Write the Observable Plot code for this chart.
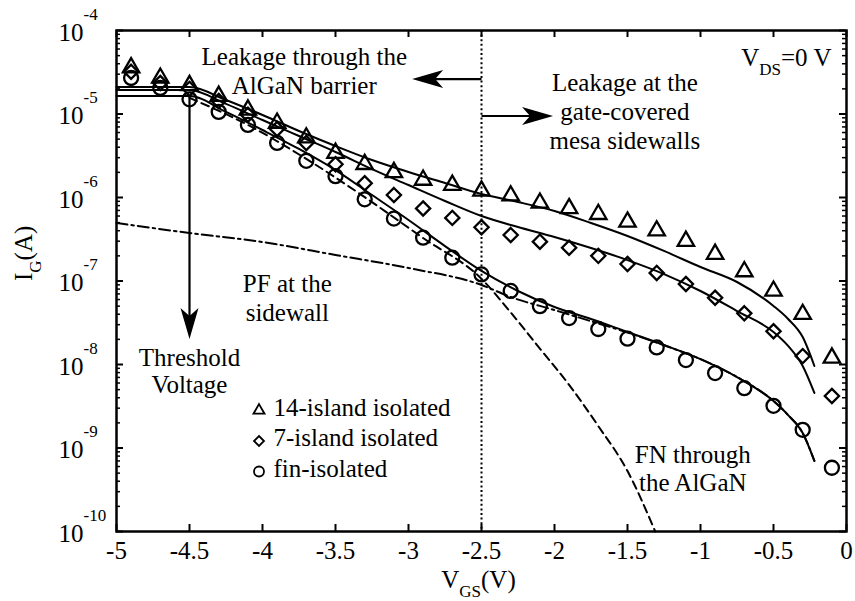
<!DOCTYPE html>
<html>
<head>
<meta charset="utf-8">
<script src="https://cdn.jsdelivr.net/npm/d3@7"></script>
<script src="https://cdn.jsdelivr.net/npm/@observablehq/plot@0.6"></script>
<style>
  html, body { margin: 0; padding: 0; background: #fff; }
  #chart { width: 855px; height: 601px; }
  #chart svg, #chart svg text, #chart svg tspan { font-family: "Liberation Serif", "Times New Roman", serif !important; }
</style>
</head>
<body>
<div id="chart"></div>
<script>
// Gate bias of the measured points (V)
const vgs = [-4.9, -4.7, -4.5, -4.3, -4.1, -3.9, -3.7, -3.5, -3.3, -3.1, -2.9, -2.7, -2.5,
             -2.3, -2.1, -1.9, -1.7, -1.5, -1.3, -1.1, -0.9, -0.7, -0.5, -0.3, -0.1];

// Measured gate leakage current (A)
const ig14 = [3.6e-5, 2.7e-5, 2.2e-5, 1.64e-5, 1.12e-5, 7.8e-6, 5.2e-6, 3.4e-6, 2.5e-6, 2.0e-6,
              1.62e-6, 1.41e-6, 1.2e-6, 1.05e-6, 8.6e-7, 7.4e-7, 6.3e-7, 5.1e-7, 4.0e-7, 3.0e-7,
              2.1e-7, 1.3e-7, 7.6e-8, 4.0e-8, 1.2e-8];
const ig7 = [3.2e-5, 2.35e-5, 2.0e-5, 1.43e-5, 9.8e-6, 6.6e-6, 4.5e-6, 2.5e-6, 1.48e-6, 1.07e-6,
             7.4e-7, 5.7e-7, 4.4e-7, 3.55e-7, 2.96e-7, 2.5e-7, 2.0e-7, 1.6e-7, 1.25e-7, 9.2e-8,
             6.3e-8, 4.1e-8, 2.5e-8, 1.26e-8, 4.2e-9];
const igFin = [2.7e-5, 2.05e-5, 1.5e-5, 1.06e-5, 7.4e-6, 4.5e-6, 2.75e-6, 1.8e-6, 9.5e-7, 5.6e-7,
               3.3e-7, 1.9e-7, 1.2e-7, 7.6e-8, 5.0e-8, 3.6e-8, 2.66e-8, 2.04e-8, 1.6e-8, 1.13e-8,
               7.9e-9, 5.2e-9, 3.2e-9, 1.65e-9, 5.8e-10];

// Model fits (solid lines)
const fit14V = [-5, -4.5, -4.25, -4.0, -3.75, -3.5, -3.25, -3.0, -2.75, -2.5, -2.25, -2.0, -1.75,
                -1.5, -1.25, -1.0, -0.75, -0.5, -0.4, -0.3, -0.22];
const fit14I = [2.1e-5, 2.1e-5, 1.47e-5, 9.73e-6, 6.26e-6, 4.14e-6, 2.81e-6, 2.02e-6, 1.49e-6, 1.1e-6,
                8.83e-7, 6.89e-7, 4.95e-7, 3.46e-7, 2.29e-7, 1.47e-7, 9.73e-8, 5.02e-8, 3.51e-8, 2.13e-8, 9.6e-9];
const fit7V = [-5, -4.5, -4.25, -4.0, -3.75, -3.5, -3.25, -3.0, -2.75, -2.5, -2.25, -2.0, -1.75,
               -1.5, -1.25, -1.0, -0.75, -0.5, -0.4, -0.3, -0.22];
const fit7I = [1.94e-5, 1.94e-5, 1.32e-5, 8.47e-6, 5.45e-6, 3.51e-6, 2.19e-6, 1.41e-6, 9.08e-7, 6.0e-7,
               4.43e-7, 3.36e-7, 2.48e-7, 1.78e-7, 1.21e-7, 7.59e-8, 4.37e-8, 2.45e-8, 1.67e-8, 9.6e-9, 4.56e-9];
const fitFinV = [-5, -4.5, -4.25, -4.0, -3.75, -3.5, -3.25, -3.0, -2.75, -2.5, -2.25, -2.0, -1.75,
                 -1.5, -1.25, -1.0, -0.75, -0.5, -0.4, -0.3, -0.22];
const fitFinI = [1.64e-5, 1.64e-5, 1.06e-5, 6.43e-6, 3.81e-6, 2.13e-6, 1.07e-6, 5.38e-7, 2.62e-7, 1.32e-7,
                 7.59e-8, 4.88e-8, 3.51e-8, 2.45e-8, 1.71e-8, 1.16e-8, 7.08e-9, 3.65e-9, 2.48e-9, 1.51e-9, 7.0e-10];

// Fowler-Nordheim tunnelling through the AlGaN (dashed)
const fnV = [-4.5, -4.1, -3.7, -3.3, -2.9, -2.5, -2.3, -2.1, -1.9, -1.7, -1.5, -1.31];
const fnI = [1.56e-5, 7.4e-6, 2.9e-6, 1.01e-6, 3.27e-7, 1.06e-7, 4.2e-8, 1.55e-8, 5.7e-9, 1.83e-9, 5.3e-10, 1.0e-10];

// Poole-Frenkel conduction at the sidewall (dash-dot)
const pfV = [-5, -4.5, -4.0, -3.5, -3.0, -2.5, -2.3, -2.0, -1.75, -1.5, -1.25, -1.0, -0.75, -0.5, -0.4, -0.3, -0.22];
const pfI = [4.95e-7, 3.76e-7, 2.93e-7, 2.05e-7, 1.43e-7, 8.96e-8, 6.43e-8, 4.49e-8, 3.3e-8,
             2.42e-8, 1.7e-8, 1.16e-8, 7.08e-9, 3.65e-9, 2.48e-9, 1.51e-9, 7.0e-10];

// Axis ticks
const xTicks = [-5, -4.5, -4, -3.5, -3, -2.5, -2, -1.5, -1, -0.5, 0];
const yTicks = [1e-10, 1e-9, 1e-8, 1e-7, 1e-6, 1e-5, 1e-4];

// Legend
const seriesNames = ["14-island isolated", "7-island isolated", "fin-isolated"];
const seriesSymbols = ["triangle", "diamond2", "circle"];

// Annotation texts
const noteBarrier = "Leakage through the\nAlGaN barrier";
const noteMesa = "Leakage at the\ngate-covered\nmesa sidewalls";
const noteBias = "V_{DS}=0 V";
const notePF = "PF at the\nsidewall";
const noteVth = "Threshold\nVoltage";
const noteFN = "FN through\nthe AlGaN";
const xLabel = "V_{GS}(V)";
const yLabel = "I_{G}(A)";

const width = 855, height = 601;
const margin = {top: 30, right: 9, bottom: 70, left: 116};
const innerW = width - margin.left - margin.right;
const innerH = height - margin.top - margin.bottom;

const zip = (xs, ys) => xs.map((x, i) => ({x, y: ys[i]}));
const minorTicks = [];
for (let e = -10; e < -4; ++e) for (let k = 2; k <= 9; ++k) minorTicks.push(k * Math.pow(10, e));

// Filled arrow head, tip at the origin and pointing up before rotation
const arrowHead = {
  draw(context) {
    context.moveTo(0, 0);
    context.lineTo(9, 31);
    context.lineTo(0, 23);
    context.lineTo(-9, 31);
    context.closePath();
  }
};

const markerStroke = {fill: "none", stroke: "black", strokeWidth: 2.3};
const serif = "Liberation Serif";

const legendMarks = seriesNames.flatMap((name, i) => [
  Plot.dot([name], {frameAnchor: "top-left", dx: 142.5, dy: 380 + 30.5 * i,
    symbol: seriesSymbols[i], r: [4.1, 4.5, 5][i], fill: "none", stroke: "black", strokeWidth: 1.8}),
  Plot.text([name], {frameAnchor: "top-left", dx: 157, dy: 385 + 30.5 * i,
    text: d => d, textAnchor: "start", lineAnchor: "bottom", fontSize: 25, fontFamily: serif})
]);

const chart = Plot.plot({
  width, height,
  marginTop: margin.top, marginRight: margin.right,
  marginBottom: margin.bottom, marginLeft: margin.left,
  style: {fontFamily: serif, fontSize: "25px", color: "black", background: "white"},
  x: {domain: [-5, 0]},
  y: {type: "log", domain: [1e-10, 1e-4]},
  marks: [
    // tick labels
    Plot.axisX({ticks: xTicks, tickSize: 0, tickPadding: 10, tickFormat: d => String(d), label: null, fontFamily: serif}),
    Plot.axisY({ticks: yTicks, tickSize: 0, tickPadding: 58, textAnchor: "start", dy: 2,
      tickFormat: d => `10^{${Math.round(Math.log10(d))}}`, label: null, fontFamily: serif}),

    // inward ticks on all four sides
    Plot.tickX(xTicks, {x: d => d, insetTop: innerH - 7, strokeWidth: 2}),
    Plot.tickX(xTicks, {x: d => d, insetBottom: innerH - 7, strokeWidth: 2}),
    Plot.tickY(yTicks, {y: d => d, insetRight: innerW - 7, strokeWidth: 2}),
    Plot.tickY(yTicks, {y: d => d, insetLeft: innerW - 7, strokeWidth: 2}),
    Plot.tickY(minorTicks, {y: d => d, insetRight: innerW - 4, strokeWidth: 1.5}),
    Plot.tickY(minorTicks, {y: d => d, insetLeft: innerW - 4, strokeWidth: 1.5}),

    // boundary between the two leakage regimes
    Plot.ruleX([-2.5], {strokeWidth: 2, strokeDasharray: "2 2.6"}),

    // conduction components
    Plot.line(zip(pfV, pfI), {x: "x", y: "y", curve: "monotone-x", strokeWidth: 2,
      strokeDasharray: "11 4 2.5 4"}),
    Plot.line(zip(fnV, fnI), {x: "x", y: "y", curve: "monotone-x", strokeWidth: 2,
      strokeDasharray: "8 5"}),

    // model fits
    Plot.line(zip(fit14V, fit14I), {x: "x", y: "y", curve: "monotone-x", strokeWidth: 2}),
    Plot.line(zip(fit7V, fit7I), {x: "x", y: "y", curve: "monotone-x", strokeWidth: 2}),
    Plot.line(zip(fitFinV, fitFinI), {x: "x", y: "y", curve: "monotone-x", strokeWidth: 2}),

    // measurements
    Plot.dot(zip(vgs, ig14), {x: "x", y: "y", symbol: "triangle", r: 6.1, ...markerStroke}),
    Plot.dot(zip(vgs, ig7), {x: "x", y: "y", symbol: "diamond2", r: 6.4, ...markerStroke}),
    Plot.dot(zip(vgs, igFin), {x: "x", y: "y", symbol: "circle", r: 7, ...markerStroke}),

    // arrows
    Plot.link([
      {x1: -4.5, y1: 1.64e-5, x2: -4.5, y2: 3.6e-8},
      {x1: -2.5, y1: 2.62e-5, x2: -2.83, y2: 2.62e-5},
      {x1: -2.5, y1: 9.46e-6, x2: -2.16, y2: 9.46e-6}
    ], {x1: "x1", y1: "y1", x2: "x2", y2: "y2", strokeWidth: 2.2}),
    Plot.dot([
      {x: -4.5, y: 2.02e-8, a: 180},
      {x: -2.975, y: 2.62e-5, a: -90},
      {x: -2.01, y: 9.46e-6, a: 90}
    ], {x: "x", y: "y", rotate: "a", symbol: arrowHead, fill: "black", stroke: "none"}),

    // annotations
    Plot.text([noteBarrier], {x: -3.714, y: 1.74e-5, text: d => d, lineAnchor: "bottom", lineHeight: 1.16, fontSize: 25, fontFamily: serif}),
    Plot.text([noteMesa], {x: -1.518, y: 3.81e-6, text: d => d, lineAnchor: "bottom", lineHeight: 1.15, fontSize: 25, fontFamily: serif}),
    Plot.text([noteBias], {x: -0.103, y: 3.76e-5, text: d => d, textAnchor: "end", lineAnchor: "bottom", fontSize: 25, fontFamily: serif}),
    Plot.text([notePF], {x: -3.83, y: 3.32e-8, text: d => d, lineAnchor: "bottom", lineHeight: 1.16, fontSize: 25, fontFamily: serif}),
    Plot.text([noteVth], {x: -4.5, y: 4.56e-9, text: d => d, lineAnchor: "bottom", lineHeight: 1.07, fontSize: 25, fontFamily: serif}),
    Plot.text([noteFN], {x: -1.053, y: 3.05e-10, text: d => d, lineAnchor: "bottom", lineHeight: 1.13, fontSize: 25, fontFamily: serif}),

    ...legendMarks,

    // axis titles
    Plot.text([xLabel], {frameAnchor: "bottom", dx: -3, dy: 56, text: d => d, lineAnchor: "bottom", fontSize: 25, fontFamily: serif}),
    Plot.text([yLabel], {frameAnchor: "left", dx: -85, rotate: -90, text: d => d, lineAnchor: "bottom", fontSize: 25, fontFamily: serif}),

    Plot.frame({strokeWidth: 2.5})
  ]
});

// Turn ^{...} and _{...} markup into raised / lowered tspans
function setRichText(svg) {
  const ns = "http://www.w3.org/2000/svg";
  svg.querySelectorAll("text").forEach(t => {
    const s = t.textContent;
    if (!/[\^_]\{/.test(s)) return;
    while (t.firstChild) t.removeChild(t.firstChild);
    const re = /([\^_])\{([^}]*)\}/g;
    let cur = 0, last = 0, m;
    const piece = (str, shift, size) => {
      const ts = document.createElementNS(ns, "tspan");
      ts.textContent = str;
      if (shift !== cur) ts.setAttribute("dy", shift - cur);
      if (size) ts.setAttribute("font-size", size);
      cur = shift;
      t.appendChild(ts);
    };
    while ((m = re.exec(s))) {
      if (m.index > last) piece(s.slice(last, m.index), 0);
      piece(m[2], m[1] === "^" ? -21 : 9, 17);
      last = re.lastIndex;
    }
    if (last < s.length) piece(s.slice(last), 0);
  });
}
setRichText(chart);

document.getElementById("chart").appendChild(chart);
</script>
</body>
</html>
